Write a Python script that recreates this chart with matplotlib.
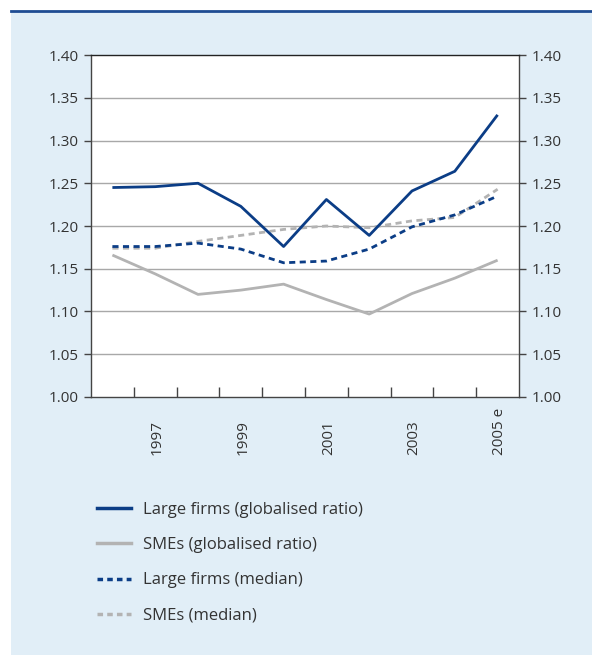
import numpy as np
import matplotlib.pyplot as plt
from matplotlib.lines import Line2D

years = [1996, 1997, 1998, 1999, 2000, 2001, 2002, 2003, 2004, 2005]
year_labels = ["1997", "1999", "2001", "2003", "2005 e"]
label_years = [1997, 1999, 2001, 2003, 2005]

large_global = [1.245, 1.246, 1.250, 1.223, 1.176, 1.231, 1.189, 1.241, 1.264, 1.330]
sme_global = [1.166, 1.144, 1.120, 1.125, 1.132, 1.114, 1.097, 1.121, 1.139, 1.160]
large_median = [1.176, 1.176, 1.180, 1.173, 1.157, 1.159, 1.173, 1.199, 1.213, 1.235]
sme_median = [1.174, 1.174, 1.182, 1.189, 1.196, 1.200, 1.198, 1.206, 1.210, 1.243]

navy = "#0B3D86"
grey = "#B3B3B3"
txt = "#333333"
panel = "#E1EEF7"

plt.rcParams['font.family'] = ['Open Sans', 'DejaVu Sans']

fig = plt.figure(figsize=(5.92, 6.55), dpi=100)
fig.patch.set_facecolor("white")
# light blue panel and top rule
fig.patches.append(plt.Rectangle((11 / 592, 0), 1, 1 - 12 / 655, transform=fig.transFigure,
                                 facecolor=panel, edgecolor="none", zorder=-10))
fig.lines.append(Line2D([11 / 592, 1], [1 - 11 / 655, 1 - 11 / 655], transform=fig.transFigure,
                        color="#1E4C93", lw=2))

ax = fig.add_axes([91 / 592, 1 - 397 / 655, 428 / 592, 342 / 655])
ax.set_facecolor("white")

ax.plot(years, large_global, color=navy, lw=2.0, solid_capstyle="butt", zorder=4)
ax.plot(years, sme_global, color=grey, lw=2.0, solid_capstyle="butt", zorder=3)
ax.plot(years, sme_median, color=grey, lw=2.0, linestyle=(0, (2.2, 1.6)), zorder=3)
ax.plot(years, large_median, color=navy, lw=2.0, linestyle=(0, (2.2, 1.6)), zorder=4)

ax.set_xlim(1995.5, 2005.5)
ax.set_ylim(1.0, 1.4)
yt = np.arange(1.0, 1.401, 0.05)
ax.set_yticks(yt)
ax.set_yticklabels([f"{v:.2f}" for v in yt])
for v in yt[1:-1]:
    ax.axhline(v, color="#A8A8A8", lw=1, zorder=1)

ax.tick_params(axis="y", which="both", direction="out", length=5, width=1, colors="#444444",
               labelcolor=txt, labelsize=11, left=True, right=True, labelleft=True, labelright=True, pad=4)
ax.set_xticks(np.arange(1996.5, 2005, 1))
ax.set_xticklabels([])
ax.tick_params(axis="x", direction="in", length=7, width=1, colors="#444444")

for s in ax.spines.values():
    s.set_color("#444444")
    s.set_linewidth(1)
ax.spines["top"].set_color("#222222")

trans = ax.get_xaxis_transform()
for yr, lab in zip(label_years, year_labels):
    ax.text(yr + 0.05, -0.17, lab, rotation=90, ha="center", va="bottom", transform=trans,
            fontsize=11, color=txt)

handles = [
    Line2D([], [], color=navy, lw=2.5),
    Line2D([], [], color=grey, lw=2.5),
    Line2D([], [], color=navy, lw=2.5, linestyle=(0, (1.6, 1.2))),
    Line2D([], [], color=grey, lw=2.5, linestyle=(0, (1.6, 1.2))),
]
labels = ["Large firms (globalised ratio)", "SMEs (globalised ratio)",
          "Large firms (median)", "SMEs (median)"]
leg = fig.legend(handles, labels, loc="upper left", bbox_to_anchor=(82 / 592, 1 - 487 / 655),
                 frameon=False, fontsize=12, handlelength=2.05, handletextpad=0.72,
                 labelspacing=1.15, labelcolor=txt)

fig.savefig("out.png", dpi=100, facecolor=fig.get_facecolor())
